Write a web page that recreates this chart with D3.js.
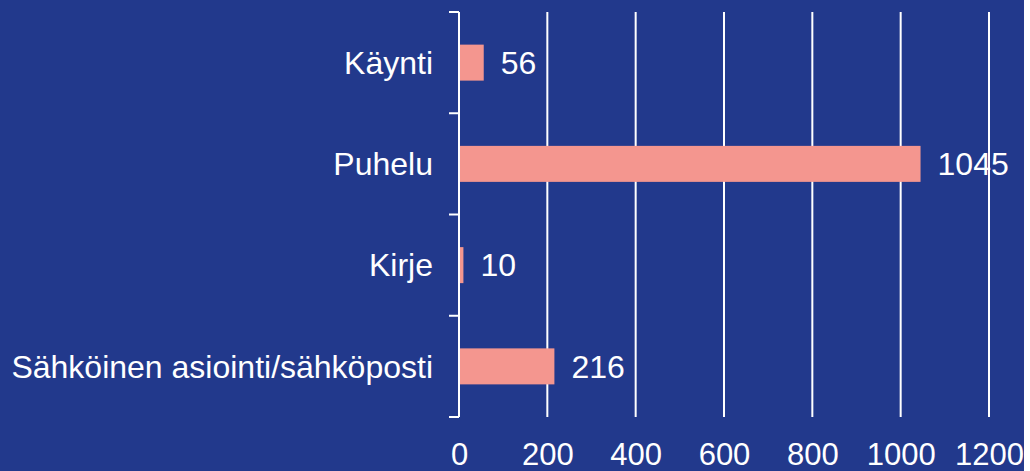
<!DOCTYPE html>
<html>
<head>
<meta charset="utf-8">
<script src="https://cdn.jsdelivr.net/npm/d3@7"></script>
<style>
  body { margin: 0; background: #fff; }
  svg { display: block; }
  text { font-family: "Liberation Sans", Arial, sans-serif; fill: #fff; }
</style>
</head>
<body>
<script>
// data
var categories = ['Käynti', 'Puhelu', 'Kirje', 'Sähköinen asiointi/sähköposti'];
var counts = [56, 1045, 10, 216];
var xTicks = [0, 200, 400, 600, 800, 1000, 1200];

var width = 1024, height = 471;
var svg = d3.select('body').append('svg')
  .attr('width', 1030)
  .attr('height', height);

svg.append('clipPath').attr('id', 'frame')
  .append('rect').attr('width', width).attr('height', height);

var g = svg.append('g').attr('clip-path', 'url(#frame)');

g.append('rect')
  .attr('width', width)
  .attr('height', height)
  .attr('fill', '#22398c');

var x = d3.scaleLinear().domain([0, 1200]).range([459, 989]);
var y = d3.scaleBand().domain(categories).range([12, 417]).padding(0);
var barH = 36;

// vertical gridlines
g.append('g')
  .selectAll('line')
  .data(xTicks)
  .enter().append('line')
  .attr('x1', function(d) { return x(d); })
  .attr('x2', function(d) { return x(d); })
  .attr('y1', 12)
  .attr('y2', 417)
  .attr('stroke', '#fff')
  .attr('stroke-width', 2);

// bottom tick labels (no tick marks)
var xAxis = g.append('g')
  .attr('transform', 'translate(0,417)')
  .call(d3.axisBottom(x).tickValues(xTicks).tickFormat(d3.format('d')).tickSize(0).tickPadding(0));
xAxis.select('.domain').remove();
xAxis.selectAll('text')
  .attr('y', 48)
  .attr('dy', 0)
  .style('font-size', '31px')
  .style('fill', '#fff');

// category axis: ticks between categories
var bounds = [12].concat(categories.map(function(c) { return y(c) + y.bandwidth(); }));
g.append('g')
  .selectAll('line')
  .data(bounds)
  .enter().append('line')
  .attr('x1', 449)
  .attr('x2', 459)
  .attr('y1', function(d) { return d; })
  .attr('y2', function(d) { return d; })
  .attr('stroke', '#fff')
  .attr('stroke-width', 2);

g.append('g')
  .selectAll('text')
  .data(categories)
  .enter().append('text')
  .attr('x', 433)
  .attr('y', function(d) { return y(d) + y.bandwidth() / 2; })
  .attr('dy', '0.35em')
  .attr('text-anchor', 'end')
  .style('font-size', '32px')
  .text(function(d) { return d; });

// bars
g.append('g')
  .selectAll('rect')
  .data(counts)
  .enter().append('rect')
  .attr('x', x(0))
  .attr('y', function(d, i) { return y(categories[i]) + y.bandwidth() / 2 - barH / 2; })
  .attr('width', function(d) { return x(d) - x(0); })
  .attr('height', barH)
  .attr('fill', '#f4968f');

// axis line on top
g.append('line')
  .attr('x1', x(0)).attr('x2', x(0))
  .attr('y1', 12).attr('y2', 417)
  .attr('stroke', '#fff')
  .attr('stroke-width', 2);

// value labels
g.append('g')
  .selectAll('text')
  .data(counts)
  .enter().append('text')
  .attr('x', function(d) { return x(d) + 17; })
  .attr('y', function(d, i) { return y(categories[i]) + y.bandwidth() / 2; })
  .attr('dy', '0.35em')
  .style('font-size', '32px')
  .text(function(d) { return d; });
</script>
</body>
</html>
